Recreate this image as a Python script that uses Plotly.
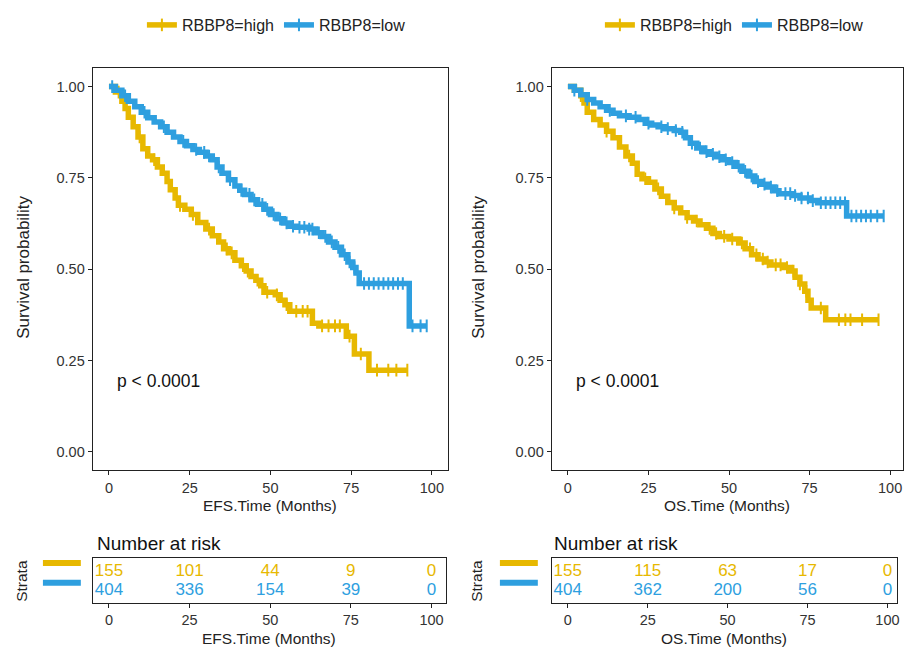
import numpy as np
import plotly.graph_objects as go

YELLOW = "#E7B800"
BLUE = "#2E9FDF"
FONT = "Liberation Sans, Arial, sans-serif"

groups = ["RBBP8=high", "RBBP8=low"]
x_ticks = [0, 25, 50, 75, 100]
y_ticks = [0.0, 0.25, 0.5, 0.75, 1.0]
y_ticklabels = ["0.00", "0.25", "0.50", "0.75", "1.00"]

# ---------------- EFS ----------------
efs_high_t = [0, 2, 4, 5, 6, 7.5, 9, 10.5, 12, 13.5, 15, 16.5, 18, 19, 20.5, 21.5, 23.5, 25.5, 27.5,
              30, 32, 34, 35.5, 37, 39, 41, 42.5, 44, 45.5, 47, 48, 51.5, 53, 54.5, 56, 63, 65,
              73.5, 76, 80.5]
efs_high_s = [1.0, 0.985, 0.96, 0.94, 0.916, 0.89, 0.862, 0.83, 0.81, 0.80, 0.78, 0.763, 0.74, 0.718,
              0.695, 0.675, 0.664, 0.65, 0.628, 0.61, 0.592, 0.575, 0.556, 0.545, 0.525, 0.51, 0.495,
              0.48, 0.47, 0.455, 0.437, 0.43, 0.415, 0.403, 0.385, 0.352, 0.345, 0.317, 0.268, 0.224]
efs_high_cens = [3, 9.5, 14, 22, 26, 31, 36.5, 38, 41.5, 43, 46, 49, 52, 55, 58, 60, 61.5, 66, 68, 70,
                 71.5, 74.5, 78, 83, 86.5, 89, 92.4]

efs_low_t = [0, 2, 4, 6, 8, 10, 12, 14, 16, 18, 20, 22, 24, 26, 28, 30, 32, 33.5, 35, 37, 39, 40.5,
             42, 44, 46, 48, 50, 52, 54, 56, 58, 62, 64, 66, 68, 70, 72, 74, 75.5, 76.5, 77.5, 93]
efs_low_s = [1.0, 0.99, 0.975, 0.96, 0.945, 0.93, 0.915, 0.903, 0.89, 0.875, 0.862, 0.85, 0.838, 0.828,
             0.82, 0.81, 0.80, 0.78, 0.763, 0.745, 0.728, 0.716, 0.705, 0.69, 0.678, 0.664, 0.65, 0.638,
             0.627, 0.618, 0.615, 0.61, 0.60, 0.59, 0.575, 0.56, 0.54, 0.52, 0.505, 0.49, 0.461, 0.345]
efs_low_cens = [1, 5, 11, 17, 23, 27, 29.5, 31, 34, 37.5, 41, 43.5, 45, 47.5, 49, 51, 53, 55, 57, 59,
                60.5, 62, 63, 65, 67, 69, 71, 73, 74.5, 76, 79, 80.5, 82, 83.5, 85, 86.5, 88, 89.5,
                91, 94, 96.5, 98.4]

# ---------------- OS ----------------
os_high_t = [0, 2, 4, 5, 6, 8, 10, 12, 14, 16, 18, 20, 21.5, 23, 25, 27, 29, 31, 33, 35, 37, 39, 41,
             43, 45, 47, 50, 53, 55, 57, 59, 61, 63, 67, 69, 70.5, 72, 73.5, 74.5, 75.5, 80]
os_high_s = [1.0, 0.99, 0.975, 0.955, 0.93, 0.91, 0.895, 0.878, 0.86, 0.835, 0.81, 0.79, 0.76, 0.748,
             0.738, 0.72, 0.70, 0.683, 0.668, 0.655, 0.642, 0.632, 0.622, 0.612, 0.598, 0.59, 0.583,
             0.572, 0.556, 0.54, 0.528, 0.52, 0.512, 0.505, 0.495, 0.478, 0.46, 0.44, 0.415, 0.394,
             0.362]
os_high_cens = [4, 12, 19, 24, 28, 33, 37, 40, 44, 46, 48.5, 51, 54, 56.5, 58.5, 60.5, 62, 64.5, 66,
                68, 70, 72, 74, 78.5, 84.1, 86.1, 87.7, 91.3, 96.4]

os_low_t = [0, 2, 4, 6, 8, 10, 12, 14, 16, 19, 22, 24, 26, 28, 30, 33, 35, 36.5, 38, 40, 42, 44, 46,
            48, 50, 52, 54, 56, 58, 60, 62, 64, 65.5, 70, 72, 75, 77.5, 86.5]
os_low_s = [1.0, 0.99, 0.978, 0.965, 0.955, 0.945, 0.935, 0.927, 0.92, 0.916, 0.91, 0.90, 0.895, 0.89,
            0.885, 0.88, 0.875, 0.86, 0.845, 0.832, 0.822, 0.815, 0.808, 0.80, 0.792, 0.782, 0.768,
            0.755, 0.74, 0.733, 0.725, 0.715, 0.707, 0.702, 0.695, 0.688, 0.682, 0.646]
os_low_cens = [2, 6, 13, 18, 21, 25, 29, 31, 33.5, 35.5, 38.5, 41, 43, 45, 47, 49, 51, 53, 55, 57, 59,
               61, 63, 65, 67.5, 69, 70.5, 72.5, 74.5, 76, 78.5, 80, 81.5, 83, 84.5, 86, 88, 89.5, 91,
               92.5, 94, 96, 98]

# ---------------- Risk tables ----------------
efs_risk_high = [155, 101, 44, 9, 0]
efs_risk_low = [404, 336, 154, 39, 0]
os_risk_high = [155, 115, 63, 17, 0]
os_risk_low = [404, 362, 200, 56, 0]

# page body has an 8px margin: the figure starts at (8, 8) in the window
OFF = 8
W, H = 912 - OFF, 647 - OFF


def px(p):
    return (p - OFF) / W


def py(p):
    return 1 - (p - OFF) / H


def step_value(times, surv, x):
    t = np.asarray(times, dtype=float)
    idx = np.searchsorted(t, x, side="right") - 1
    return float(np.asarray(surv)[idx])


fig = go.Figure()


def add_curve(times, surv, cens, color, xa, ya):
    end = max(max(times), max(cens))
    xs = list(times) + [end]
    ys = list(surv) + [surv[-1]]
    fig.add_trace(go.Scatter(x=xs, y=ys, mode="lines", line=dict(color=color, width=5.5, shape="hv"),
                             xaxis=xa, yaxis=ya, showlegend=False, hoverinfo="skip"))
    cy = [step_value(times, surv, c) for c in cens]
    fig.add_trace(go.Scatter(x=cens, y=cy, mode="markers",
                             marker=dict(symbol="line-ns", size=9, color=color,
                                         line=dict(width=2, color=color)),
                             xaxis=xa, yaxis=ya, showlegend=False, hoverinfo="skip"))


def add_legend_entries(legend_name, xa, ya):
    for name, color in zip(groups, [YELLOW, BLUE]):
        fig.add_trace(go.Scatter(x=[None], y=[None], mode="lines+markers", name=name,
                                 line=dict(color=color, width=5.5),
                                 marker=dict(symbol="line-ns", size=9, color=color,
                                             line=dict(width=2, color=color)),
                                 xaxis=xa, yaxis=ya, legend=legend_name))


add_legend_entries("legend", "x", "y")
add_curve(efs_high_t, efs_high_s, efs_high_cens, YELLOW, "x", "y")
add_curve(efs_low_t, efs_low_s, efs_low_cens, BLUE, "x", "y")

add_legend_entries("legend2", "x2", "y2")
add_curve(os_high_t, os_high_s, os_high_cens, YELLOW, "x2", "y2")
add_curve(os_low_t, os_low_s, os_low_cens, BLUE, "x2", "y2")


def add_table(high, low, xa, ya):
    fig.add_trace(go.Scatter(x=x_ticks, y=[2] * 5, mode="text", text=[str(v) for v in high],
                             textfont=dict(color=YELLOW, size=17, family=FONT),
                             xaxis=xa, yaxis=ya, showlegend=False, hoverinfo="skip"))
    fig.add_trace(go.Scatter(x=x_ticks, y=[1] * 5, mode="text", text=[str(v) for v in low],
                             textfont=dict(color=BLUE, size=17, family=FONT),
                             xaxis=xa, yaxis=ya, showlegend=False, hoverinfo="skip"))


add_table(efs_risk_high, efs_risk_low, "x3", "y3")
add_table(os_risk_high, os_risk_low, "x4", "y4")

axis_common = dict(showline=True, linecolor="#222", linewidth=1.3, mirror=True, ticks="outside",
                   ticklen=4, tickcolor="#222", showgrid=False, zeroline=False,
                   tickfont=dict(size=14.5, color="#333", family=FONT))

main_y = dict(axis_common, range=[-0.05, 1.05], tickvals=y_ticks, ticktext=y_ticklabels,
              domain=[py(468), py(61)])
table_y = dict(showline=True, linecolor="#222", linewidth=1.3, mirror=True, showticklabels=False,
               ticks="", showgrid=False, zeroline=False, range=[0.4, 2.7],
               domain=[py(602), py(557)])

fig.update_layout(
    width=W, height=H, margin=dict(l=0, r=0, t=0, b=0),
    paper_bgcolor="white", plot_bgcolor="white",
    font=dict(family=FONT, color="#222"),
    xaxis=dict(axis_common, range=[-5, 105], tickvals=x_ticks, domain=[px(93), px(449)], anchor="y"),
    yaxis=dict(main_y, anchor="x"),
    xaxis2=dict(axis_common, range=[-5, 104], tickvals=x_ticks, domain=[px(553), px(905)], anchor="y2"),
    yaxis2=dict(main_y, anchor="x2"),
    xaxis3=dict(axis_common, range=[-5, 104.5], tickvals=x_ticks, domain=[px(93), px(447)], anchor="y3"),
    yaxis3=dict(table_y, anchor="x3"),
    xaxis4=dict(axis_common, range=[-5, 103], tickvals=x_ticks, domain=[px(553), px(899)], anchor="y4"),
    yaxis4=dict(table_y, anchor="x4"),
    legend=dict(orientation="h", x=px(277), y=py(17), xanchor="center", yanchor="middle",
                font=dict(size=16, family=FONT, color="#222"), itemwidth=30, bgcolor="rgba(0,0,0,0)",
                tracegroupgap=0),
    legend2=dict(orientation="h", x=px(736), y=py(17), xanchor="center", yanchor="middle",
                 font=dict(size=16, family=FONT, color="#222"), itemwidth=30, bgcolor="rgba(0,0,0,0)",
                 tracegroupgap=0),
    showlegend=True,
)

ann = []
title_font = dict(size=15.5, family=FONT, color="#222")
for cx, label in [((93 + 449) / 2, "EFS.Time (Months)"), ((553 + 905) / 2, "OS.Time (Months)")]:
    ann.append(dict(x=px(cx), y=py(504), xref="paper", yref="paper", text=label, showarrow=False,
                    font=title_font, xanchor="center", yanchor="middle"))
for cx, label in [((93 + 447) / 2, "EFS.Time (Months)"), ((553 + 899) / 2, "OS.Time (Months)")]:
    ann.append(dict(x=px(cx), y=py(638), xref="paper", yref="paper", text=label, showarrow=False,
                    font=title_font, xanchor="center", yanchor="middle"))
for cx in [24, 480]:
    ann.append(dict(x=px(cx), y=py(262), xref="paper", yref="paper", text="Survival probability",
                    showarrow=False, textangle=-90, font=dict(size=17, family=FONT, color="#222"),
                    xanchor="center", yanchor="middle"))
for cx in [22, 478]:
    ann.append(dict(x=px(cx), y=py(580), xref="paper", yref="paper", text="Strata",
                    showarrow=False, textangle=-90, font=dict(size=15.5, family=FONT, color="#222"),
                    xanchor="center", yanchor="middle"))
for cx in [95, 553]:
    ann.append(dict(x=px(cx), y=py(542), xref="paper", yref="paper", text="Number at risk",
                    showarrow=False, font=dict(size=19, family=FONT, color="#111"),
                    xanchor="left", yanchor="middle"))
for xr, yr in [("x", "y"), ("x2", "y2")]:
    ann.append(dict(x=2, y=0.195, xref=xr, yref=yr, text="p < 0.0001", showarrow=False,
                    font=dict(size=17.5, family=FONT, color="#111"), xanchor="left", yanchor="middle"))
fig.update_layout(annotations=ann)

shapes = []
for x0, x1 in [(43, 81), (501, 539)]:
    for ycen, color in [(562, YELLOW), (582, BLUE)]:
        shapes.append(dict(type="line", xref="paper", yref="paper", x0=px(x0), x1=px(x1),
                           y0=py(ycen), y1=py(ycen), line=dict(color=color, width=6)))
fig.update_layout(shapes=shapes)

fig.write_html("out.html")
